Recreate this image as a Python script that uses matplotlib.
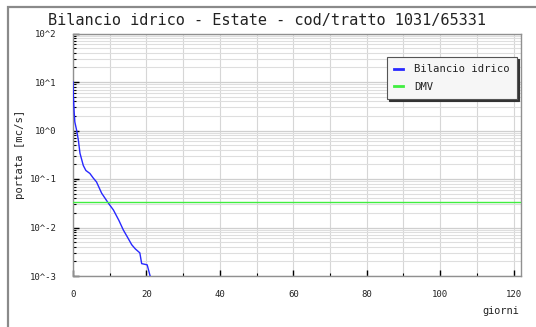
import matplotlib
matplotlib.use("Agg")
import matplotlib.pyplot as plt
from matplotlib.ticker import LogLocator, FixedLocator, FixedFormatter, NullFormatter, MultipleLocator
from matplotlib.patches import Rectangle

# Water balance duration curve (m3/s) versus days
giorni = [0, 0.1, 0.3, 0.5, 1.0, 1.45, 1.9, 2.8, 3.5, 4.6, 5.5, 6.4, 7.8, 9.6,
          11.0, 12.5, 13.7, 15.0, 16.0, 17.0, 18.2, 18.7, 20.2, 21.0, 21.3]
bilancio = [10, 5, 2.5, 1.5, 1.0, 0.64, 0.34, 0.19, 0.15, 0.13, 0.105, 0.087, 0.051, 0.032,
            0.023, 0.014, 0.0089, 0.006, 0.0044, 0.0036, 0.0030, 0.0018, 0.0017, 0.001, 0.0008]
dmv = 0.034

y_ticks = [1e-3, 1e-2, 1e-1, 1e0, 1e1, 1e2]
y_labels = ["10^-3", "10^-2", "10^-1", "10^0", "10^1", "10^2"]
x_ticks = [0, 20, 40, 60, 80, 100, 120]
x_labels = ["0", "20", "40", "60", "80", "100", "120"]

title = "Bilancio idrico - Estate - cod/tratto 1031/65331"
mono = "DejaVu Sans Mono"

W, H = 536, 327
fig = plt.figure(figsize=(W / 100, H / 100), dpi=100)
fig.patch.set_facecolor("white")

# outer frame
fig.patches.append(Rectangle((8 / W, -0.1), 1.2, 1 - 7 / H + 0.1, transform=fig.transFigure,
                             fill=False, edgecolor="#8a8a8a", linewidth=1.6))

ax = fig.add_axes([73 / W, 1 - 276 / H, 448 / W, (276 - 33.5) / H])
ax.set_yscale("log")
ax.set_xlim(0, 122)
ax.set_ylim(1e-3, 1e2)

ax.plot(giorni, bilancio, color="#2828ff", linewidth=1.0,
        label="Bilancio idrico", zorder=3)
ax.axhline(dmv, color="#40ee40", linewidth=1.0, label="DMV", zorder=3)

ax.yaxis.set_major_locator(FixedLocator(y_ticks))
ax.yaxis.set_major_formatter(FixedFormatter(y_labels))
ax.yaxis.set_minor_locator(LogLocator(base=10, subs=range(2, 10)))
ax.yaxis.set_minor_formatter(NullFormatter())
ax.xaxis.set_major_locator(FixedLocator(x_ticks))
ax.xaxis.set_major_formatter(FixedFormatter(x_labels))
ax.xaxis.set_minor_locator(MultipleLocator(10))

ax.grid(True, which="major", axis="y", color="#cfcfcf", linewidth=0.9)
ax.grid(True, which="minor", axis="y", color="#dedede", linewidth=0.8)
ax.grid(True, which="both", axis="x", color="#d6d6d6", linewidth=0.8)
ax.set_axisbelow(True)

ax.tick_params(axis="both", which="major", direction="in", length=4, width=1.0, color="black",
               labelsize=6.5, labelcolor="#222222")
ax.tick_params(axis="both", which="minor", direction="in", length=2.5, width=0.8, color="black")
ax.tick_params(axis="y", which="both", right=False)
ax.tick_params(axis="x", which="both", top=False, pad=10)
ax.tick_params(axis="y", pad=12)
for lab in ax.get_xticklabels() + ax.get_yticklabels():
    lab.set_family(mono)

for s in ax.spines.values():
    s.set_color("#909090")
    s.set_linewidth(1.0)

ax.set_ylabel("portata [mc/s]", family=mono, fontsize=7.6, color="#222222", labelpad=3)
fig.text(501 / W, 1 - 311 / H, "giorni", family=mono, fontsize=7.4, color="#222222",
         ha="center", va="center")
fig.text(0.5 * (45 + 490) / W, 1 - 20 / H, title, family=mono, fontsize=11, color="#222222",
         ha="center", va="center")

leg = ax.legend(loc="upper right", bbox_to_anchor=(517 / W, 1 - 57 / H),
                bbox_transform=fig.transFigure, prop={"family": mono, "size": 7.6},
                frameon=True, fancybox=False,
                shadow={"color": "#333333", "alpha": 1.0, "ox": 1.5, "oy": -1.5},
                handlelength=0.9, borderpad=0.7, labelspacing=0.7, handletextpad=1.0,
                borderaxespad=0)
leg.get_frame().set_edgecolor("#555555")
leg.get_frame().set_facecolor("#f6f6f6")
leg.get_frame().set_linewidth(0.8)
for t in leg.get_texts():
    t.set_color("#222222")
for ln in leg.get_lines():
    ln.set_linewidth(2)

fig.savefig("out.png", dpi=100)
